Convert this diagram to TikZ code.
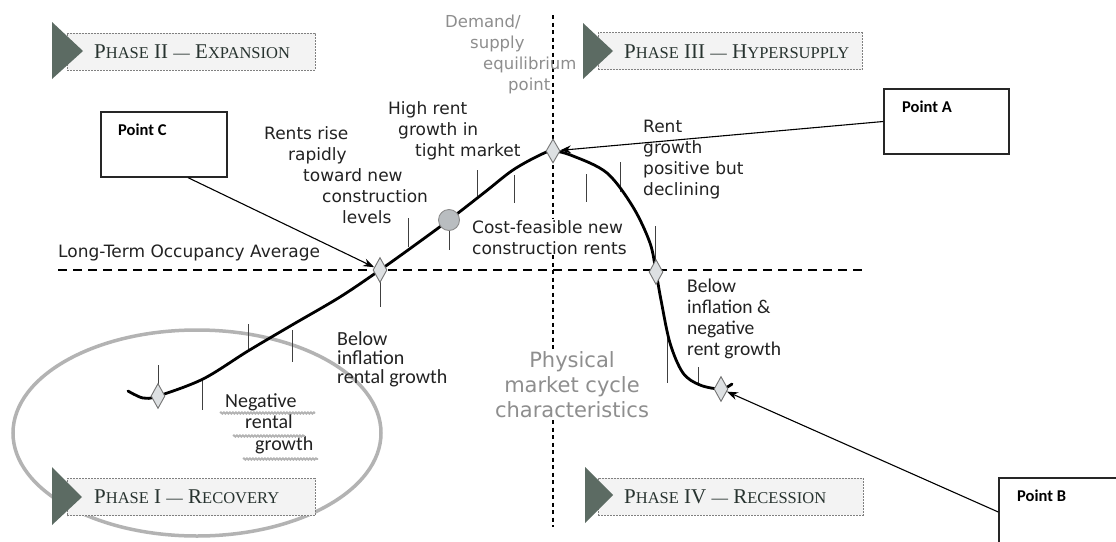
\documentclass[tikz,border=0pt]{standalone}
\usepackage{fontspec}
\newfontfamily\dv{DejaVu Sans}
\newfontfamily\cb{Carlito}
\newfontfamily\tms{Liberation Serif}
\newcommand\phsm[1]{{\fontsize{16.5}{22}\selectfont #1}}
\usetikzlibrary{shapes.geometric,arrows.meta,calc,decorations.pathmorphing}
\definecolor{txt}{HTML}{222222}
\definecolor{graytxt}{HTML}{8E8E8E}
\definecolor{phasetxt}{HTML}{27332F}
\definecolor{bannerfill}{HTML}{F3F3F3}
\definecolor{bannerline}{HTML}{808080}
\definecolor{trifill}{HTML}{5C6B63}
\definecolor{ringgray}{HTML}{B3B3B3}
\definecolor{diafill}{HTML}{DDE0E2}
\definecolor{circfill}{HTML}{B9BDC0}
\tikzset{
  lbl/.style={inner sep=0pt, align=left, text=txt, font=\dv\fontsize{17}{21}\selectfont},
  cbl/.style={inner sep=0pt, align=left, text=txt, font=\cb\fontsize{20}{21}\selectfont},
  grayl/.style={inner sep=0pt, text=graytxt},
  phasetext/.style={inner sep=0pt, text=phasetxt, font=\tms\fontsize{21}{22}\selectfont},
  bannerbox/.style={draw=bannerline, fill=bannerfill, line width=0.9pt, dash pattern=on 2pt off 1pt, minimum width=248pt, minimum height=37pt, inner sep=0pt},
  tri/.style={fill=trifill},
  curveline/.style={line width=2.8pt, line cap=round, line join=round},
  tickline/.style={line width=0.9pt, draw=black!75},
  dia/.style={diamond, draw=black!55, fill=diafill, line width=0.9pt, minimum width=14pt, minimum height=25pt, inner sep=0pt},
  pbox/.style={draw=black!85, line width=1.5pt, fill=white, inner sep=0pt},
  plabel/.style={inner sep=0pt, font=\cb\bfseries\fontsize{16.5}{18}\selectfont, text=black},
  pointer/.style={line width=1.1pt, -{Stealth[length=11pt,width=8pt]}},
  hdash/.style={line width=2.2pt, dash pattern=on 9pt off 6pt},
  vdash/.style={line width=2.6pt, dash pattern=on 4pt off 3.5pt},
  wavy/.style={draw=ringgray, line width=1.8pt, decorate, decoration={snake, amplitude=0.7pt, segment length=3pt}}
}
\begin{document}
\begin{tikzpicture}[x=1pt,y=-1pt]
\useasboundingbox[fill=white] (0,0) rectangle (1116,541);

% recovery ellipse
\draw[ringgray, line width=3.5pt] (197,433) ellipse [x radius=184, y radius=103];

% axes
\draw[hdash] (58,270) -- (866,270);
\draw[vdash] (553,15) -- (553,527);

% phase banners
\node[bannerbox] (p2box) at (191,51.5) {};
\fill[tri] (52,22) -- (83,51) -- (52,79) -- cycle;
\node[phasetext, anchor=west] (p2txt) at (94,52) {P\phsm{HASE} II \phsm{—} E\phsm{XPANSION}};

\node[bannerbox, minimum width=264pt] (p3box) at (730,51) {};
\fill[tri] (583,23) -- (613,51) -- (583,79) -- cycle;
\node[phasetext, anchor=west] (p3txt) at (624,52) {P\phsm{HASE} III \phsm{—} H\phsm{YPERSUPPLY}};

\node[bannerbox] (p1box) at (191,497) {};
\fill[tri] (52,467) -- (82,497) -- (52,525) -- cycle;
\node[phasetext, anchor=west] (p1txt) at (94,497) {P\phsm{HASE} I \phsm{—} R\phsm{ECOVERY}};

\node[bannerbox, minimum width=265pt] (p4box) at (730.5,496.5) {};
\fill[tri] (585,467) -- (613,495) -- (585,523) -- cycle;
\node[phasetext, anchor=west] (p4txt) at (624,497) {P\phsm{HASE} IV \phsm{—} R\phsm{ECESSION}};

% ticks
\foreach \x/\a/\b in {158/365/388, 202/380/410, 248/324/350, 292/330/362, 380/280/307,
  408/218/247, 449/230/250, 477/170/196, 514/175/203, 586/174/202, 620/162/192,
  655/226/262, 667/338/383, 698/367/384}
  \draw[tickline] (\x,\a) -- (\x,\b);

% market curve
\draw[curveline] plot[smooth, tension=0.55] coordinates {(128,391) (143,398) (158,396) (203,379) (248,351) (292,325) (340,297) (380,270) (415,245) (449,220) (485,192) (513,170) (540,155) (553,151) (573,156) (607,173) (633,207) (650,243) (656,272) (661,300) (670,343) (683,373) (700,385) (721,389) (732,384)};

% markers
\node[dia] (d1) at (158,396) {};
\node[dia] (d2) at (380,270) {};
\node[dia, minimum height=24pt] (d3) at (553,151) {};
\node[dia] (d4) at (656,272) {};
\node[dia] (d5) at (721,389) {};
\node[circle, draw=black!45, fill=circfill, line width=0.9pt, minimum size=21pt, inner sep=0pt] (cf) at (449,220) {};

% texts
\node[lbl, anchor=west] (lto) at (58,253) {Long-Term Occupancy Average};
\node[lbl, anchor=north west] (rr) at (264,126) {Rents rise\\\hspace*{24pt}rapidly\\\hspace*{39pt}toward new\\\hspace*{58pt}construction\\\hspace*{78pt}levels};
\node[lbl, anchor=north west] (hr) at (388,101) {High rent\\\hspace*{10pt}growth in\\\hspace*{27pt}tight market};
\node[lbl, anchor=north west] (rg) at (643,120) {Rent\\growth\\positive but\\declining};
\node[lbl, anchor=north west, fill=white, inner sep=1pt] (cfn) at (471,219) {Cost-feasible new\\construction rents};
\node[grayl, anchor=north west, align=left, font=\dv\fontsize{16.5}{21}\selectfont] (dse) at (445,15) {Demand/\\\hspace*{25pt}supply\\\hspace*{38pt}equilibrium\\\hspace*{63pt}point};
\node[grayl, align=center, fill=white, inner sep=2pt, font=\dv\fontsize{21}{25}\selectfont] (pmc) at (572,385) {Physical\\market cycle\\characteristics};
\node[cbl, anchor=north west, font=\cb\fontsize{19.5}{21}\selectfont] (bin) at (687,279) {Below\\inflation \&\\negative\\rent growth};
\node[cbl, anchor=north west, font=\cb\fontsize{20}{19}\selectfont] (bir) at (337,331) {Below\\inflation\\rental growth};
\node[cbl, anchor=north west, font=\cb\fontsize{20}{21.5}\selectfont] (neg) at (225,393) {Negative\\\hspace*{20pt}rental\\\hspace*{30pt}growth};
\draw[wavy] (220,413) -- (315,413);
\draw[wavy] (233,436) -- (305,436);
\draw[wavy] (243,459) -- (318,459);

% point boxes
\node[pbox, minimum width=126pt, minimum height=65pt] (pc) at (164,144.5) {};
\node[plabel, anchor=west] (pct) at (118,130) {Point C};
\node[pbox, minimum width=125pt, minimum height=65pt] (pa) at (946.5,121.5) {};
\node[plabel, anchor=west] (pat) at (902,107) {Point A};
\node[pbox, minimum width=126pt, minimum height=68pt] (pb) at (1062,512) {};
\node[plabel, anchor=west] (pbt) at (1017,496) {Point B};

% pointers
\draw[pointer] ($(pc.south west)!0.69!(pc.south east)$) -- (d2);
\draw[pointer] (pa.west) -- (d3);
\draw[pointer] (pb.west) -- (d5);
\end{tikzpicture}
\end{document}
